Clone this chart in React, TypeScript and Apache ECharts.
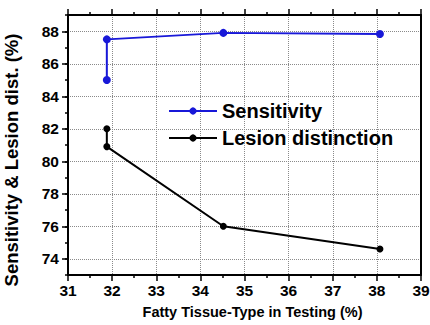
import React, { useEffect, useRef } from "react";
import * as echarts from "echarts";

const sensX = [31.88, 31.88, 34.52, 38.07];
const sensY = [85.0, 87.5, 87.9, 87.83];
const lesionX = [31.88, 31.88, 34.52, 38.07];
const lesionY = [82.0, 80.9, 76.0, 74.6];
const xGridValues = [32, 33, 34, 35, 36, 37, 38];
const yTickValues = [74, 76, 78, 80, 82, 84, 86, 88];
const seriesNames = ["Sensitivity", "Lesion distinction"];
const xTitle = "Fatty Tissue-Type in Testing (%)";
const yTitle = "Sensitivity & Lesion dist. (%)";

const FONT = "Liberation Sans, Arial, sans-serif";

export default function App() {
  const ref = useRef<HTMLDivElement>(null);
  useEffect(() => {
    if (!ref.current) return;
    const chart = echarts.init(ref.current, null, { renderer: "svg" });
    const axisLine = { show: true, lineStyle: { color: "#000", width: 2 } };
    const grid = { left: 68, right: 9, top: 15, bottom: 50, containLabel: false, outerBoundsMode: "none" };
    const labelStyle = { fontFamily: FONT, fontSize: 15.5, fontWeight: 700, color: "#000" };
    const dotted = { show: true, lineStyle: { color: "#8a8a8a", type: [1, 1], width: 1, opacity: 1 } };
    chart.setOption({
      animation: false,
      backgroundColor: "#fff",
      grid,
      legend: {
        left: 168,
        top: 101,
        padding: 0,
        orient: "vertical",
        itemWidth: 48,
        itemHeight: 9,
        itemGap: 7,
        textStyle: { fontFamily: FONT, fontSize: 20, fontWeight: 700, color: "#000" },
        data: seriesNames,
      },
      xAxis: [
        {
          type: "value",
          position: "bottom",
          min: 31,
          max: 39,
          interval: 1,
          axisLine,
          axisTick: { show: true, inside: false, length: 6, lineStyle: { width: 1.5, color: "#000" } },
          minorTick: { show: true, splitNumber: 2, length: 3, lineStyle: { width: 1.5, color: "#000" } },
          axisLabel: { ...labelStyle, margin: 7 },
          splitLine: dotted,
          name: xTitle,
          nameLocation: "middle",
          nameGap: 29,
          nameTextStyle: { fontFamily: FONT, fontSize: 14.5, fontWeight: 700, color: "#000", padding: [0, 0, 0, 16] },
        },
        {
          type: "value",
          position: "top",
          min: 31,
          max: 39,
          interval: 1,
          axisLine,
          axisTick: { show: true, inside: false, length: 6, lineStyle: { width: 1.5, color: "#000" } },
          minorTick: { show: true, splitNumber: 2, length: 3, lineStyle: { width: 1.5, color: "#000" } },
          axisLabel: { show: false },
          splitLine: { show: false },
        },
      ],
      yAxis: [
        {
          type: "value",
          position: "left",
          min: 73,
          max: 89,
          interval: 1,
          axisLine,
          axisTick: { show: true, inside: false, length: 3, lineStyle: { width: 1.5, color: "#000" } },
          axisLabel: { show: false },
          splitLine: { show: false },
        },
        {
          type: "value",
          position: "left",
          min: 73,
          max: 89,
          axisLine: { show: false },
          axisTick: { show: true, inside: false, length: 6, customValues: yTickValues, lineStyle: { width: 1.5, color: "#000" } },
          axisLabel: { ...labelStyle, customValues: yTickValues, margin: 9 },
          splitLine: dotted,
          name: yTitle,
          nameLocation: "middle",
          nameGap: 47,
          nameTextStyle: { fontFamily: FONT, fontSize: 18.5, fontWeight: 700, color: "#000", padding: [0, 30, 0, 0] },
        },
        {
          type: "value",
          position: "right",
          min: 73,
          max: 89,
          axisLine,
          axisTick: { show: false },
          axisLabel: { show: false },
          splitLine: { show: false },
        },
      ],
      series: [
        {
          name: seriesNames[0],
          type: "line",
          xAxisIndex: 0,
          yAxisIndex: 0,
          z: 3,
          data: sensX.map((x, i) => [x, sensY[i]]),
          symbol: "circle",
          symbolSize: 8,
          color: "#1818d8",
          lineStyle: { width: 2, color: "#1818d8" },
          itemStyle: { color: "#1818d8" },
        },
        {
          name: seriesNames[1],
          type: "line",
          xAxisIndex: 0,
          yAxisIndex: 0,
          z: 3,
          data: lesionX.map((x, i) => [x, lesionY[i]]),
          symbol: "circle",
          symbolSize: 7,
          color: "#000",
          lineStyle: { width: 2, color: "#000" },
          itemStyle: { color: "#000" },
        },
      ],
    });
    return () => chart.dispose();
  }, []);
  return <div ref={ref} style={{ width: 430, height: 325, position: "absolute", left: 0, top: 0 }} />;
}
